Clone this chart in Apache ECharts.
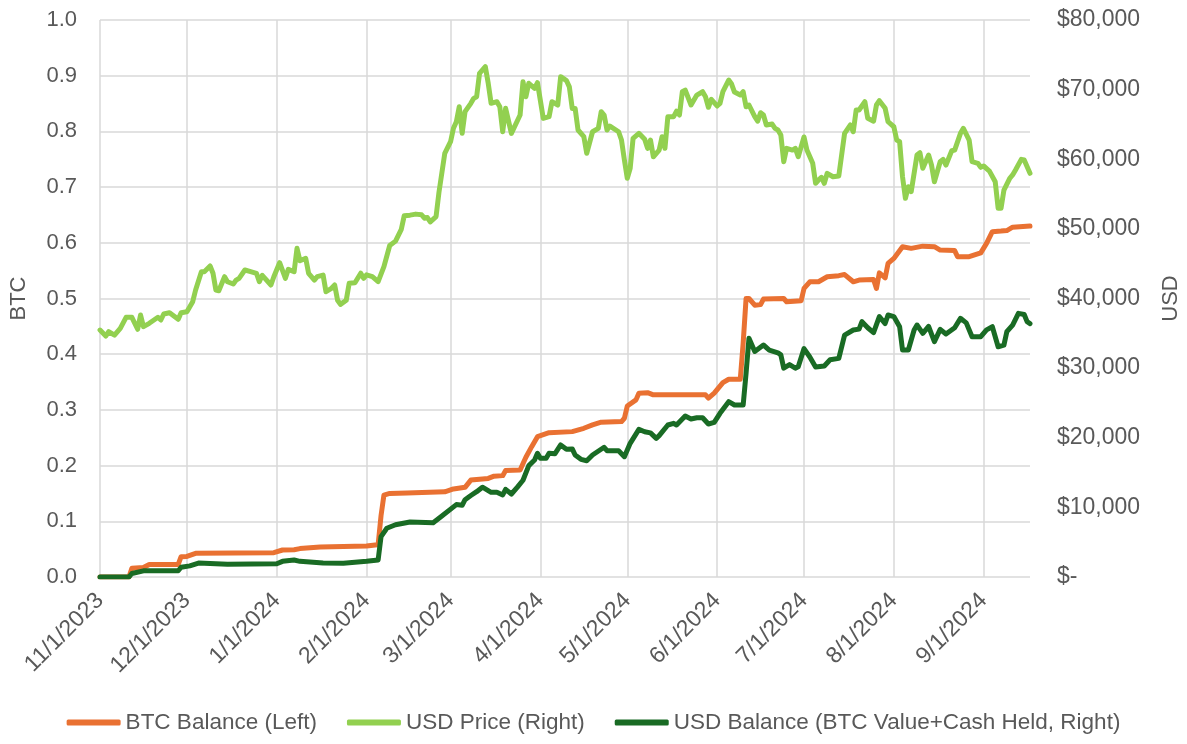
<!DOCTYPE html>
<html>
<head>
<meta charset="utf-8">
<script src="https://cdn.jsdelivr.net/npm/echarts@6/dist/echarts.min.js"></script>
<style>
  html, body { margin: 0; padding: 0; background: #fff; }
  #chart { width: 1187px; height: 744px; }
</style>
</head>
<body>
<div id="chart"></div>
<script>
  // first day on the axis and how many days are shown (11/1/2023 .. 9/17/2024)
  var startDate = [2023, 10, 1]
  var dayCount = 322

  // [day since 11/1/2023, BTC]
  var btcBalance = [
    [0, 0], [10, 0], [11, 0.0156], [15, 0.017], [17, 0.0225], [27, 0.0225], [28, 0.0365], [30, 0.037],
    [33, 0.0425], [60, 0.0437], [63, 0.0485], [67, 0.049], [69, 0.051], [76, 0.054], [92, 0.0555],
    [95, 0.0576], [96, 0.058], [97, 0.11], [98, 0.147], [100, 0.150], [106, 0.151], [119, 0.153],
    [122, 0.158], [126, 0.161], [128, 0.174], [134, 0.177], [136, 0.181], [139, 0.182], [140, 0.191],
    [145, 0.192], [147, 0.215], [149, 0.234], [151, 0.252], [155, 0.259], [163, 0.261], [167, 0.267],
    [170, 0.273], [173, 0.278], [180, 0.279], [181, 0.285], [182, 0.307], [185, 0.318], [186, 0.330],
    [189, 0.331], [191, 0.327], [209, 0.327], [210, 0.321], [212, 0.330], [215, 0.349], [217, 0.355],
    [221, 0.355], [222, 0.42], [223, 0.500], [224, 0.500], [226, 0.488], [228, 0.489], [229, 0.499],
    [236, 0.500], [237, 0.494], [242, 0.496], [243, 0.518], [245, 0.530], [248, 0.530], [251, 0.539],
    [255, 0.541], [257, 0.543], [260, 0.530], [262, 0.533], [267, 0.534], [268, 0.518], [269, 0.546],
    [271, 0.537], [272, 0.563], [274, 0.572], [277, 0.593], [280, 0.590], [284, 0.594], [288, 0.593],
    [290, 0.587], [295, 0.586], [296, 0.575], [300, 0.575], [304, 0.582], [306, 0.599], [308, 0.620],
    [311, 0.621], [313, 0.622], [315, 0.628], [321, 0.630]
  ]

  // [day, USD] bitcoin price
  var usdPrice = [
    [0, 35470], [2, 34610], [3, 35230], [5, 34750], [7, 35720], [9, 37300], [11, 37300], [13, 35580],
    [14, 37630], [15, 35950], [17, 36440], [20, 37300], [21, 36910], [22, 37770], [24, 37960], [27, 37010],
    [28, 37960], [30, 38100], [32, 39540], [33, 41220], [35, 43850], [36, 43850], [38, 44670], [39, 43620],
    [40, 41220], [41, 41120], [43, 43130], [44, 42410], [46, 42080], [47, 42650], [48, 42900], [50, 44090],
    [52, 43850], [54, 43620], [55, 42410], [56, 43330], [59, 41940], [60, 43130], [62, 45140], [64, 42900],
    [65, 44190], [67, 43850], [68, 47210], [69, 45430], [71, 45770], [72, 43620], [74, 42650], [75, 43130],
    [77, 43370], [78, 40970], [80, 41500], [81, 41940], [82, 39750], [83, 39160], [85, 39750], [86, 42180],
    [88, 42270], [90, 43630], [91, 42900], [92, 43390], [94, 43140], [96, 42420], [98, 44590], [100, 47610],
    [102, 48240], [104, 49940], [105, 51870], [107, 51970], [109, 52120], [111, 52020], [112, 51530],
    [113, 51630], [114, 51000], [116, 51770], [117, 55260], [119, 60850], [121, 62520], [122, 64440],
    [123, 65390], [124, 67540], [125, 63720], [126, 66830], [128, 68030], [129, 68750], [130, 68980],
    [131, 72340], [133, 73290], [134, 70910], [135, 68030], [137, 68270], [138, 67540], [139, 63950],
    [140, 67310], [142, 63720], [145, 66350], [146, 71140], [147, 68980], [148, 70910], [150, 70190],
    [151, 70990], [153, 65870], [155, 66110], [156, 68270], [158, 67790], [159, 71860], [161, 71300],
    [162, 70400], [163, 67300], [164, 67300], [165, 64200], [167, 63240], [168, 60850], [170, 63950],
    [172, 64440], [173, 66830], [174, 66350], [175, 64200], [176, 64770], [179, 63950], [180, 62760],
    [181, 59890], [182, 57260], [183, 58700], [184, 63000], [186, 63720], [188, 62860], [189, 61570],
    [190, 62760], [191, 60360], [193, 61320], [194, 63240], [195, 61570], [196, 66110], [198, 66110],
    [199, 66900], [200, 66350], [201, 69700], [202, 69940], [204, 67790], [206, 69220], [208, 69700],
    [209, 68980], [210, 67460], [211, 68610], [213, 67650], [214, 68030], [215, 69700], [217, 71380],
    [218, 70800], [219, 69650], [221, 69220], [222, 69700], [223, 67540], [224, 67790], [226, 66110],
    [227, 65460], [228, 66680], [229, 66350], [230, 64920], [232, 65060], [233, 64440], [234, 64200],
    [235, 63480], [236, 59650], [237, 61570], [239, 61320], [240, 61570], [241, 60360], [243, 63200],
    [244, 61320], [246, 59410], [247, 56540], [248, 57020], [249, 57410], [250, 56540], [251, 57980],
    [253, 57490], [255, 57590], [257, 63720], [259, 64920], [260, 63950], [261, 67070], [262, 67070],
    [264, 68260], [265, 65880], [267, 65460], [268, 67790], [269, 68410], [271, 67310], [272, 65390],
    [274, 64670], [275, 62760], [276, 62520], [277, 57490], [278, 54390], [279, 56050], [280, 55340],
    [282, 60610], [283, 60940], [284, 58700], [286, 60610], [287, 59170], [288, 56770], [290, 59650],
    [291, 59990], [292, 59170], [294, 61230], [295, 61320], [297, 63720], [298, 64440], [300, 62760],
    [301, 59650], [303, 59420], [304, 58840], [305, 59030], [307, 58300], [309, 56770], [310, 52950],
    [311, 52950], [312, 55580], [314, 57260], [315, 57740], [316, 58460], [318, 59990], [319, 59890],
    [321, 57980]
  ]

  // [day, USD] value of BTC held + cash
  var usdBalance = [
    [0, 0], [10, 0], [11, 500], [15, 880], [27, 900], [28, 1400], [31, 1600], [34, 2000], [44, 1820],
    [61, 1900], [63, 2250], [67, 2440], [69, 2250], [77, 2000], [84, 1990], [92, 2250], [96, 2450],
    [97, 5800], [99, 7000], [102, 7500], [107, 7900], [115, 7800], [118, 8750], [123, 10400], [125, 10300],
    [126, 11100], [128, 11700], [130, 12250], [132, 12900], [135, 12160], [137, 12160], [139, 11780],
    [140, 12590], [142, 11920], [144, 12880], [146, 13900], [148, 16000], [150, 16800], [151, 17760],
    [152, 17050], [154, 17050], [155, 17760], [157, 17700], [159, 18960], [161, 18340], [163, 18400],
    [164, 17520], [166, 16900], [168, 16700], [170, 17520], [174, 18630], [175, 18140], [179, 18140],
    [181, 17280], [183, 19200], [186, 21210], [188, 20870], [190, 20700], [192, 19920], [193, 20300],
    [196, 21830], [198, 22070], [199, 21830], [202, 23120], [204, 22700], [206, 22880], [208, 22880],
    [210, 21970], [212, 22200], [214, 23510], [217, 25180], [219, 24700], [222, 24700], [223, 29260],
    [224, 34280], [226, 32400], [229, 33320], [231, 32600], [234, 32200], [235, 31900], [236, 30000],
    [238, 30500], [240, 30000], [241, 30200], [243, 32800], [245, 31600], [247, 30160], [250, 30300],
    [252, 31200], [255, 31400], [257, 34750], [260, 35470], [262, 35600], [263, 36670], [265, 35800],
    [267, 35090], [269, 37390], [271, 36400], [272, 37630], [274, 37400], [276, 35950], [277, 32600],
    [279, 32600], [281, 35470], [282, 36190], [284, 35000], [286, 36000], [288, 33790], [290, 35570],
    [292, 34900], [295, 35800], [297, 37150], [299, 36500], [301, 34510], [304, 34510], [306, 35500],
    [308, 35950], [310, 33070], [312, 33300], [313, 35230], [315, 36190], [317, 37870], [319, 37700],
    [320, 36670], [321, 36400]
  ]

  // daily category labels, M/D/YYYY like the sheet
  var dates = []
  for (var d = 0; d < dayCount; d++) {
    var dt = new Date(startDate[0], startDate[1], startDate[2] + d)
    dates.push((dt.getMonth() + 1) + '/' + dt.getDate() + '/' + dt.getFullYear())
  }
  function monthStart (index, value) {
    return value.split('/')[1] === '1'
  }

  var textColor = '#595959'
  var gridColor = '#d9d9d9'
  var font = 'Liberation Sans'

  var chart = echarts.init(document.getElementById('chart'))
  chart.setOption({
    animation: false,
    textStyle: {fontFamily: font},
    grid: {left: 100, right: 157, top: 20, bottom: 167, outerBoundsMode: 'none'},
    legend: {
      bottom: 5,
      left: 'center',
      icon: 'roundRect',
      itemWidth: 54,
      itemHeight: 6,
      itemGap: 30,
      textStyle: {color: textColor, fontSize: 22.5, fontFamily: font},
      data: ['BTC Balance (Left)', 'USD Price (Right)', 'USD Balance (BTC Value+Cash Held, Right)']
    },
    xAxis: {
      type: 'category',
      data: dates,
      boundaryGap: false,
      axisLine: {show: false},
      axisTick: {show: false},
      axisLabel: {
        interval: monthStart,
        rotate: 45,
        margin: 20,
        color: textColor,
        fontSize: 23,
        fontFamily: font
      },
      splitLine: {show: true, interval: monthStart, lineStyle: {color: gridColor, width: 1.5}}
    },
    yAxis: [
      {
        type: 'value',
        name: 'BTC',
        nameLocation: 'middle',
        nameGap: 70,
        nameTextStyle: {color: textColor, fontSize: 22, fontFamily: font},
        min: 0,
        max: 1,
        interval: 0.1,
        axisLine: {show: false},
        axisTick: {show: false},
        axisLabel: {
          color: textColor, fontSize: 22, margin: 23, fontFamily: font,
          formatter: function (v) { return v.toFixed(1) }
        },
        splitLine: {lineStyle: {color: gridColor, width: 1.5}}
      },
      {
        type: 'value',
        name: 'USD',
        nameLocation: 'middle',
        nameGap: 130,
        nameTextStyle: {color: textColor, fontSize: 22, fontFamily: font},
        min: 0,
        max: 80000,
        interval: 10000,
        axisLine: {show: false},
        axisTick: {show: false},
        splitLine: {show: false},
        axisLabel: {
          color: textColor, fontSize: 23, margin: 27, fontFamily: font,
          formatter: function (v) { return v === 0 ? '$-' : '$' + v.toLocaleString('en-US') }
        }
      }
    ],
    series: [
      {
        name: 'BTC Balance (Left)',
        type: 'line',
        yAxisIndex: 0,
        data: btcBalance,
        showSymbol: false,
        symbol: 'none',
        color: '#E97132',
        lineStyle: {width: 5, join: 'round', cap: 'round'}
      },
      {
        name: 'USD Price (Right)',
        type: 'line',
        yAxisIndex: 1,
        data: usdPrice,
        showSymbol: false,
        symbol: 'none',
        color: '#92D050',
        lineStyle: {width: 5, join: 'round', cap: 'round'}
      },
      {
        name: 'USD Balance (BTC Value+Cash Held, Right)',
        type: 'line',
        yAxisIndex: 1,
        data: usdBalance,
        showSymbol: false,
        symbol: 'none',
        color: '#196B24',
        lineStyle: {width: 5, join: 'round', cap: 'round'}
      }
    ]
  })
</script>
</body>
</html>
